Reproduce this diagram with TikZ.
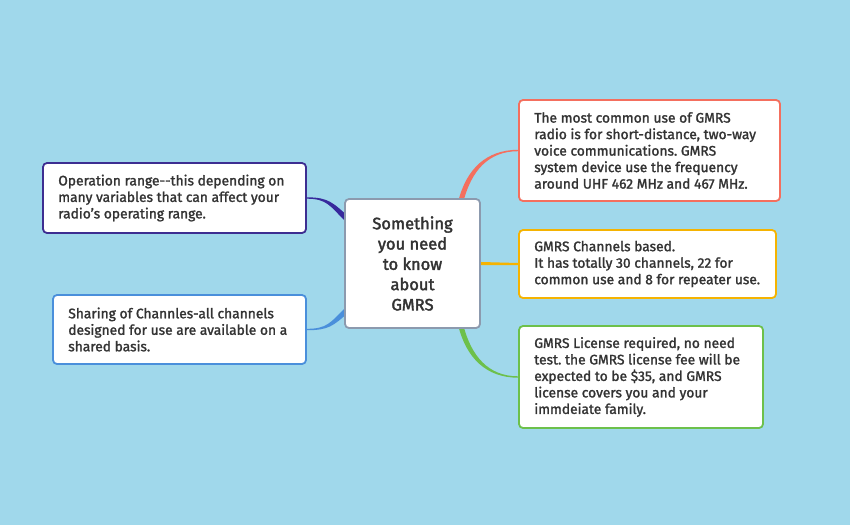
\documentclass[tikz,border=0pt]{standalone}
\usepackage{fontspec}
\setmainfont{Fira Sans}[FakeBold=1.6,Ligatures=NoCommon]
\newfontfamily\hubfont{Fira Sans}[FakeBold=2.2]
\usetikzlibrary{calc,backgrounds}
\definecolor{bg}{HTML}{A0D8EB}
\definecolor{cpurple}{HTML}{3D2E91}
\definecolor{cblue}{HTML}{4A8FDB}
\definecolor{cred}{HTML}{F46F5E}
\definecolor{cyellow}{HTML}{F5B301}
\definecolor{cgreen}{HTML}{6DC04B}
\definecolor{cgray}{HTML}{8C9AAE}
\definecolor{txt}{HTML}{333333}
\tikzset{
  box/.style={draw, fill=white, rounded corners=4pt, line width=1.8pt, inner sep=0pt},
  label/.style={text=txt, align=left, inner sep=0pt, anchor=west,
    font=\fontsize{13.8}{16.5}\selectfont\frenchspacing},
  hub/.style={draw=cgray, fill=white, rounded corners=4pt, line width=1.8pt, text=txt,
    align=center, inner sep=0pt, font=\hubfont\fontsize{16.5}{20.3}\selectfont},
}
\begin{document}
\begin{tikzpicture}[x=1pt,y=-1pt]
\useasboundingbox (0,0) rectangle (850,525);
% hub
\node[hub, minimum width=135pt, minimum height=129pt] (c) at (412.5,263.5)
  {Something\\you need\\to know\\about\\GMRS};
% left
\node[box, draw=cpurple, minimum width=263pt, minimum height=70pt] (op) at (174.5,198) {};
\node[label] (opT) at ($(op.west)+(16,0)$)
  {Operation range-{}-this depending on\\many variables that can affect your\\radio's operating range.};
\node[box, draw=cblue, minimum width=253pt, minimum height=69pt] (share) at (179.5,329.5) {};
\node[label] (shareT) at ($(share.west)+(16,0)$)
  {Sharing of Channles-all channels\\designed for use are available on a\\shared basis.};
% right
\node[box, draw=cred, minimum width=261pt, minimum height=101pt] (use) at (649.5,150.5) {};
\node[label] (useT) at ($(use.west)+(16,0)$)
  {The most common use of GMRS\\radio is for short-distance, two-way\\voice communications. GMRS\\system device use the frequency\\around UHF 462 MHz and 467 MHz.};
\node[box, draw=cyellow, minimum width=257pt, minimum height=68pt] (chan) at (647.5,264) {};
\node[label] (chanT) at ($(chan.west)+(16,0)$)
  {GMRS Channels based.\\It has totally 30 channels, 22 for\\common use and 8 for repeater use.};
\node[box, draw=cgreen, minimum width=244pt, minimum height=102pt] (lic) at (641,377) {};
\node[label] (licT) at ($(lic.west)+(16,0)$)
  {GMRS License required, no need\\test. the GMRS license fee will be\\expected to be \$35, and GMRS\\license covers you and your\\immdeiate family.};
\begin{scope}[on background layer]
\fill[bg] (0,0) rectangle (850,525);
% red
\coordinate (rT) at (use.west);
\coordinate (rH) at ($(c.north east)+(-20,3)$);
\fill[cred] ($(rT)+(0,-0.7)$) .. controls ($(rT)+(-32,-0.7)$) and ($(rH)+(5.5,-32)$) .. ($(rH)+(-2.6,0)$)
  -- ($(rH)+(2.6,0)$) .. controls ($(rH)+(10.5,-30)$) and ($(rT)+(-30,0.7)$) .. ($(rT)+(0,0.7)$) -- cycle;
% green
\coordinate (gT) at (lic.west);
\coordinate (gH) at ($(c.south east)+(-20,-3)$);
\fill[cgreen] ($(gT)+(0,0.7)$) .. controls ($(gT)+(-32,0.7)$) and ($(gH)+(5.5,32)$) .. ($(gH)+(-2.6,0)$)
  -- ($(gH)+(2.6,0)$) .. controls ($(gH)+(10.5,30)$) and ($(gT)+(-30,-0.7)$) .. ($(gT)+(0,-0.7)$) -- cycle;
% yellow
\fill[cyellow] ($(chan.west)+(0,-1)$) -- ($(c.east)+(-3,-1.6)$) -- ($(c.east)+(-3,1.6)$) -- ($(chan.west)+(0,1)$) -- cycle;
% purple
\coordinate (pT) at (op.east);
\coordinate (pH) at ($(c.north west)+(3,21)$);
\fill[cpurple!90!blue] ($(pT)+(0,-0.7)$) .. controls ($(pT)+(22,-0.7)$) and ($(pH)+(-14,-16)$) .. ($(pH)+(2,-2)$)
  -- ($(pH)+(-2,2)$) .. controls ($(pH)+(-17,-13)$) and ($(pT)+(20,0.7)$) .. ($(pT)+(0,0.7)$) -- cycle;
% blue
\coordinate (bT) at (share.east);
\coordinate (bH) at ($(c.south west)+(3,-19)$);
\fill[cblue] ($(bT)+(0,0.7)$) .. controls ($(bT)+(22,0.7)$) and ($(bH)+(-14,16)$) .. ($(bH)+(2,2)$)
  -- ($(bH)+(-2,-2)$) .. controls ($(bH)+(-17,13)$) and ($(bT)+(20,-0.7)$) .. ($(bT)+(0,-0.7)$) -- cycle;
\end{scope}
\end{tikzpicture}
\end{document}
